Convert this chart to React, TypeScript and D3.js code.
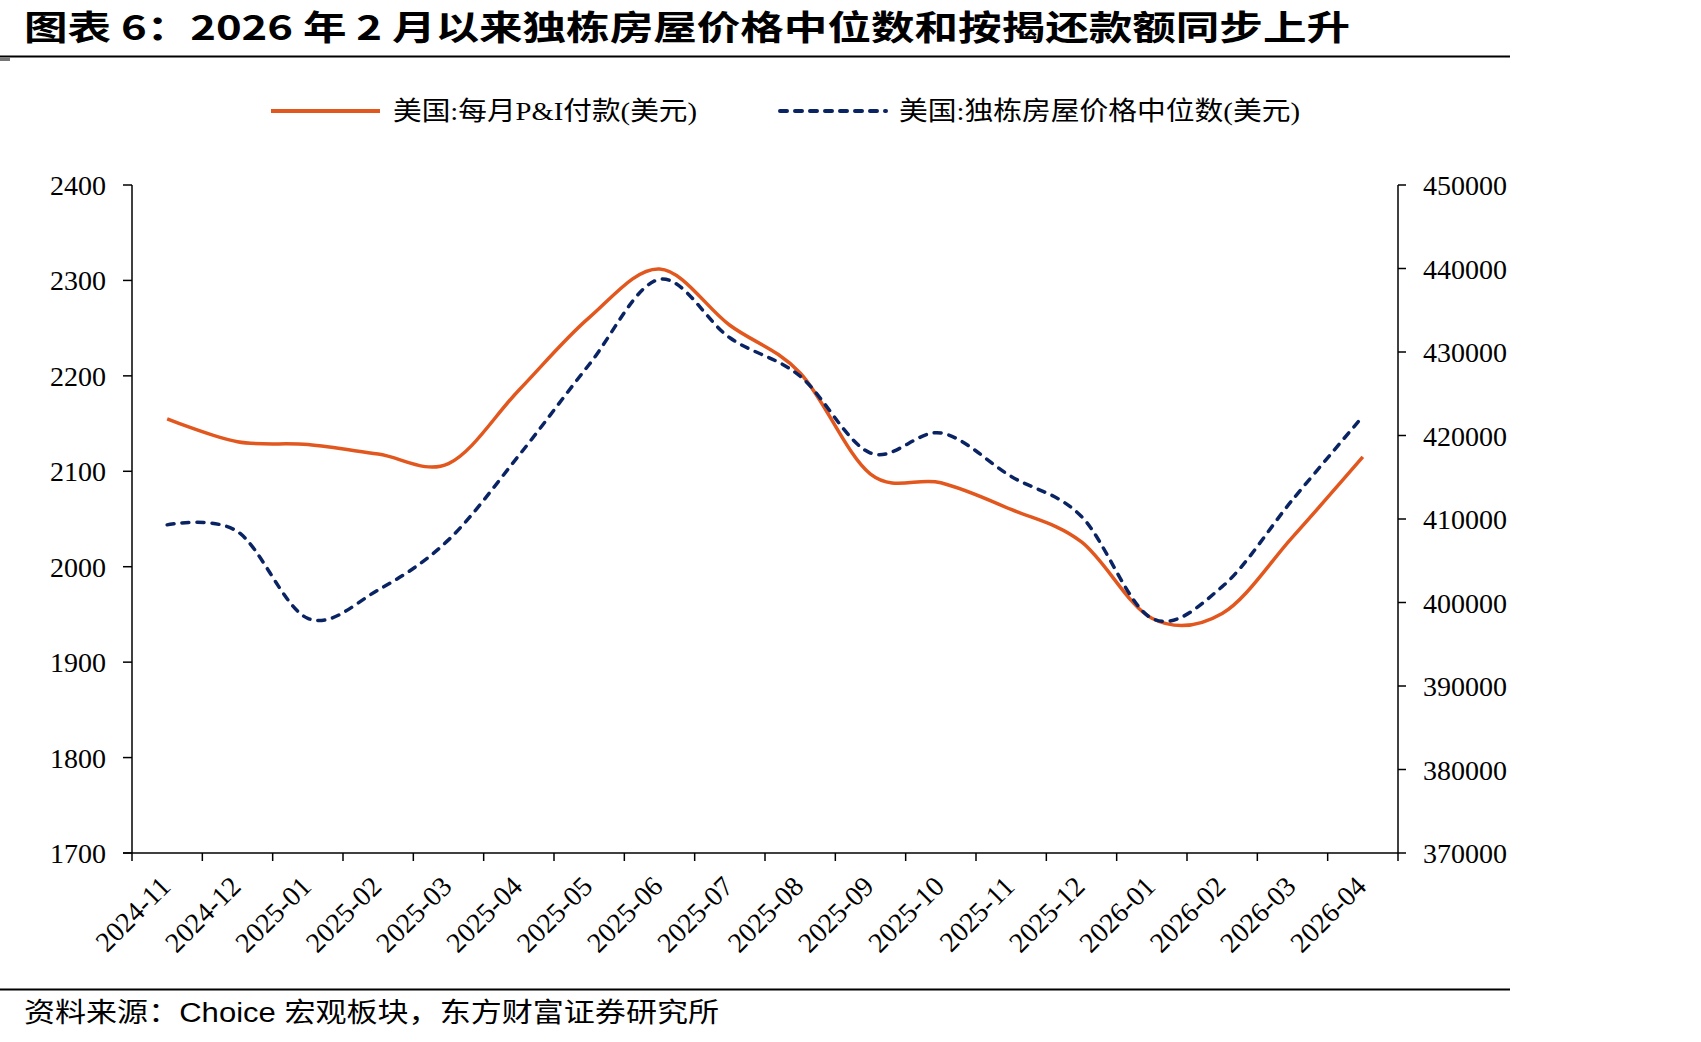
import React from "react";
import * as d3 from "d3";

const categories = [
  "2024-11", "2024-12", "2025-01", "2025-02", "2025-03", "2025-04",
  "2025-05", "2025-06", "2025-07", "2025-08", "2025-09", "2025-10",
  "2025-11", "2025-12", "2026-01", "2026-02", "2026-03", "2026-04",
];

const paymentValues = [
  2155, 2131, 2128, 2118, 2108, 2185, 2261, 2312, 2253, 2203,
  2097, 2088, 2060, 2026, 1946, 1951, 2031, 2115,
];

const priceValues = [
  409300, 408500, 398100, 401500, 407500, 417600, 428500, 438700, 431700,
  427100, 417900, 420300, 415100, 410300, 398100, 401900, 412300, 422300,
];

const leftTicks = [1700, 1800, 1900, 2000, 2100, 2200, 2300, 2400];
const rightTicks = [370000, 380000, 390000, 400000, 410000, 420000, 430000, 440000, 450000];

const titleText = "图表 6：2026 年 2 月以来独栋房屋价格中位数和按揭还款额同步上升";
const legend1 = "美国:每月P&I付款(美元)";
const legend2 = "美国:独栋房屋价格中位数(美元)";
const sourceText = "资料来源：Choice 宏观板块，东方财富证券研究所";

const W = 1701;
const H = 1042;
const X0 = 132;
const X1 = 1398;
const YT = 185;
const YB = 853;
const ORANGE = "#E2571E";
const NAVY = "#0A2463";
const SERIF = "'Liberation Serif', 'Times New Roman', 'Noto Sans CJK SC', serif";
const CJK_SERIF = "'Liberation Serif', 'Noto Sans CJK SC', serif";

export default function App() {
  const x = d3.scaleBand<string>().domain(categories).range([X0, X1]).padding(0);
  const cx = (c: string) => (x(c) as number) + x.bandwidth() / 2;
  const yL = d3.scaleLinear().domain([1700, 2400]).range([YB, YT]);
  const yR = d3.scaleLinear().domain([370000, 450000]).range([YB, YT]);

  const curve = d3.curveCardinal.tension(0);
  const lineL = d3
    .line<number>()
    .x((_, i) => cx(categories[i]))
    .y((d) => yL(d))
    .curve(curve);
  const lineR = d3
    .line<number>()
    .x((_, i) => cx(categories[i]))
    .y((d) => yR(d))
    .curve(curve);

  const boundaries = categories.map((c) => x(c) as number).concat([X1]);

  return (
    <svg
      width={W}
      height={H}
      style={{ position: "absolute", left: 0, top: 0, background: "#fff" }}
    >
      {/* Title */}
      <text
        x={24}
        y={40}
        fontFamily="'Noto Sans CJK SC', 'Liberation Sans', sans-serif"
        fontWeight={700}
        fontSize={34}
        textLength={1326}
        lengthAdjust="spacingAndGlyphs"
        fill="#000"
      >
        {titleText}
      </text>
      <line x1={0} x2={1510} y1={56.5} y2={56.5} stroke="#000" strokeWidth={2} />
      <rect x={0} y={58} width={10} height={3} fill="#777" />

      {/* Legend */}
      <line x1={271} x2={380} y1={111} y2={111} stroke={ORANGE} strokeWidth={4} />
      <text
        x={393}
        y={120}
        fontFamily={CJK_SERIF}
        fontSize={26}
        textLength={304}
        lengthAdjust="spacingAndGlyphs"
        fill="#000"
      >
        {legend1}
      </text>
      <line
        x1={780}
        x2={886}
        y1={111}
        y2={111}
        stroke={NAVY}
        strokeWidth={4}
        strokeDasharray="7 8"
        strokeLinecap="round"
      />
      <text
        x={899}
        y={120}
        fontFamily={CJK_SERIF}
        fontSize={26}
        textLength={401}
        lengthAdjust="spacingAndGlyphs"
        fill="#000"
      >
        {legend2}
      </text>

      {/* Left axis */}
      <line x1={X0} x2={X0} y1={YT} y2={YB} stroke="#000" strokeWidth={1.5} />
      {leftTicks.map((t) => (
        <g key={"l" + t}>
          <line x1={X0 - 9} x2={X0} y1={yL(t)} y2={yL(t)} stroke="#000" strokeWidth={1.5} />
          <text
            x={106}
            y={yL(t) + 10}
            textAnchor="end"
            fontFamily={SERIF}
            fontSize={28}
            fill="#000"
          >
            {t}
          </text>
        </g>
      ))}

      {/* Right axis */}
      <line x1={X1} x2={X1} y1={YT} y2={YB} stroke="#000" strokeWidth={1.5} />
      {rightTicks.map((t) => (
        <g key={"r" + t}>
          <line x1={X1} x2={X1 + 8} y1={yR(t)} y2={yR(t)} stroke="#000" strokeWidth={1.5} />
          <text
            x={1423}
            y={yR(t) + 10}
            textAnchor="start"
            fontFamily={SERIF}
            fontSize={28}
            fill="#000"
          >
            {t}
          </text>
        </g>
      ))}

      {/* X axis */}
      <line x1={X0 - 9} x2={X1} y1={YB} y2={YB} stroke="#000" strokeWidth={1.5} />
      {boundaries.map((b, i) => (
        <line key={"xt" + i} x1={b} x2={b} y1={YB} y2={YB + 8} stroke="#000" strokeWidth={1.5} />
      ))}
      {categories.map((c) => (
        <text
          key={"xl" + c}
          transform={`translate(${cx(c) + 5},${YB + 35}) rotate(-45)`}
          textAnchor="end"
          fontFamily={SERIF}
          fontSize={28}
          fill="#000"
        >
          {c}
        </text>
      ))}

      {/* Lines */}
      <path d={lineL(paymentValues) || ""} fill="none" stroke={ORANGE} strokeWidth={3.5} />
      <path
        d={lineR(priceValues) || ""}
        fill="none"
        stroke={NAVY}
        strokeWidth={3.5}
        strokeDasharray="7 8"
        strokeLinecap="round"
      />

      {/* Footer */}
      <line x1={0} x2={1510} y1={989.5} y2={989.5} stroke="#000" strokeWidth={2} />
      <text
        x={24}
        y={1022}
        fontFamily="'Liberation Sans', 'Noto Sans CJK SC', sans-serif"
        fontSize={27}
        textLength={695}
        lengthAdjust="spacingAndGlyphs"
        fill="#000"
      >
        {sourceText}
      </text>
    </svg>
  );
}
